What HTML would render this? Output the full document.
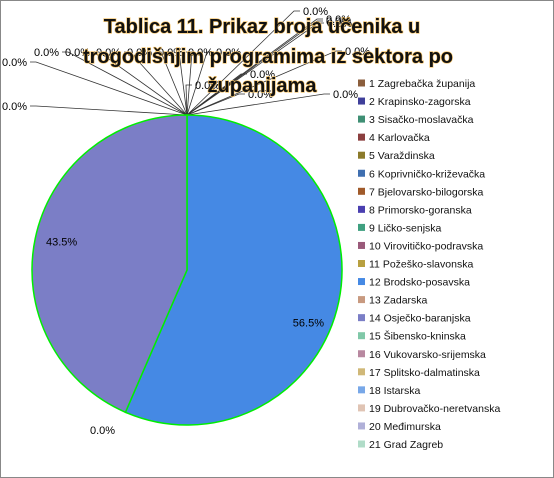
<!DOCTYPE html>
<html><head><meta charset="utf-8"><style>
body{margin:0;background:#fff}
svg{display:block;font-family:"Liberation Sans",sans-serif}
</style></head><body>
<svg id="chart" width="554" height="478" viewBox="0 0 554 478">
<rect x="0.5" y="0.5" width="553" height="477" fill="#fff" stroke="#888"/>
<g id="leaders"></g>
<g id="slices"></g>
<g id="labels"></g>
<g font-weight="bold" font-size="20" text-anchor="middle" fill="#111" style="paint-order:stroke" stroke="#f5c060" stroke-width="1.2">
<text x="262" y="33">Tablica 11. Prikaz broja učenika u</text>
<text x="268" y="63">trogodišnjim programima iz sektora po</text>
<text x="262" y="92">županijama</text>
</g>
<g id="legend"></g>
</svg>
<script>
const categories=["1 Zagrebačka županija","2 Krapinsko-zagorska","3 Sisačko-moslavačka","4 Karlovačka","5 Varaždinska","6 Koprivničko-križevačka","7 Bjelovarsko-bilogorska","8 Primorsko-goranska","9 Ličko-senjska","10 Virovitičko-podravska","11 Požeško-slavonska","12 Brodsko-posavska","13 Zadarska","14 Osječko-baranjska","15 Šibensko-kninska","16 Vukovarsko-srijemska","17 Splitsko-dalmatinska","18 Istarska","19 Dubrovačko-neretvanska","20 Međimurska","21 Grad Zagreb"];
const values=[0,0,0,0,0,0,0,0,0,0,0,56.5,0,43.5,0,0,0,0,0,0,0];
const colors=["#8b5e3c","#3f3f9a","#3f8f74","#8b3f3f","#8b7a2a","#3f6fb0","#a05a2a","#4a3fb0","#3fa080","#9a5a7a","#b8a040","#4589e4","#c89a80","#7b7ec6","#80c8a8","#b888a0","#d0b878","#78a8e8","#e0c4b4","#b0b0d8","#b0dcc8"];
const zeroLabelPos=[[303,15],[326,23],[326,25],[327,27],[345,55],[333,98],[250,78],[248,98],[195,89],[216,56],[188,56],[158,56],[127,56],[96,56],[65,56],[34,56],[2,66],[2,110],[90,434]];
const NS="http://www.w3.org/2000/svg";
const cx=187,cy=270,r=155;
const total=values.reduce((a,b)=>a+b,0);
function pt(a,rad){return [cx+rad*Math.sin(a),cy-rad*Math.cos(a)];}
const gs=document.getElementById('slices'),gl=document.getElementById('labels'),gL=document.getElementById('leaders'),lg=document.getElementById('legend');
let ang=0,zi=0;
values.forEach((v,i)=>{
  const sweep=v/total*2*Math.PI;
  if(v>0){
    const p0=pt(ang,r),p1=pt(ang+sweep,r);
    const path=document.createElementNS(NS,'path');
    path.setAttribute('d',`M${cx},${cy}L${p0[0]},${p0[1]}A${r},${r} 0 ${sweep>Math.PI?1:0} 1 ${p1[0]},${p1[1]}Z`);
    path.setAttribute('fill',colors[i]);path.setAttribute('stroke','#00ee00');path.setAttribute('stroke-width','1.5');
    
    
    gs.appendChild(path);
    const m=pt(ang+sweep/2,r*0.78);
    const t=document.createElementNS(NS,'text');
    t.setAttribute('x',i===11?m[0]+3:m[0]-7);t.setAttribute('y',i===11?m[1]+32:m[1]);
    t.setAttribute('font-size','11');t.setAttribute('text-anchor','middle');
    t.textContent=v.toFixed(1)+'%';
    
    
    gl.appendChild(t);
  } else {
    const p=zeroLabelPos[zi++]||[cx,cy-r];
    const onTop=p[1]<cy-r;
    if(onTop){
      const top=pt(0,r);const lx=p[0]<cx?p[0]+28:p[0]-3;
      const ln=document.createElementNS(NS,'polyline');
      ln.setAttribute('points',`${top[0]},${top[1]} ${lx-6*(p[0]<cx?-1:1)},${p[1]-4} ${lx},${p[1]-4}`);
      ln.setAttribute('fill','none');ln.setAttribute('stroke','#333');ln.setAttribute('stroke-width','0.8');
      
      
      gL.appendChild(ln);
    }
    const t=document.createElementNS(NS,'text');
    t.setAttribute('x',p[0]);t.setAttribute('y',p[1]);t.setAttribute('font-size','11');
    t.textContent=v.toFixed(1)+'%';
    
    
    gl.appendChild(t);
  }
  ang+=sweep;
});
categories.forEach((c,i)=>{
  const y=83+i*18.05;
  const g=document.createElementNS(NS,'g');
  
  
  const s=document.createElementNS(NS,'rect');
  s.setAttribute('x',358);s.setAttribute('y',y-3.5);s.setAttribute('width',7);s.setAttribute('height',7);s.setAttribute('fill',colors[i]);
  const t=document.createElementNS(NS,'text');
  t.setAttribute('x',369);t.setAttribute('y',y+4);t.setAttribute('font-size','10.5');t.setAttribute('fill','#111');
  t.textContent=c;
  g.appendChild(s);g.appendChild(t);lg.appendChild(g);
});
</script>
</body></html>
